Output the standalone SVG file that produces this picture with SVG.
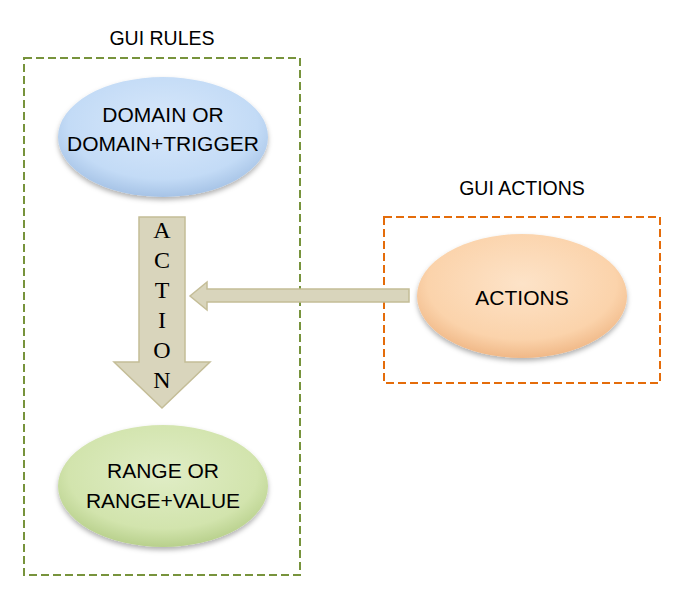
<svg xmlns="http://www.w3.org/2000/svg" width="685" height="601" viewBox="0 0 685 601">
<defs>
<radialGradient id="gBlue" cx="50%" cy="40%" r="60%">
<stop offset="0" stop-color="#d8e8fb"/><stop offset="0.75" stop-color="#c3dbf6"/><stop offset="1" stop-color="#a6c3e6"/>
</radialGradient>
<radialGradient id="gOrange" cx="50%" cy="40%" r="60%">
<stop offset="0" stop-color="#fde3c8"/><stop offset="0.75" stop-color="#fbd3ab"/><stop offset="1" stop-color="#f0b887"/>
</radialGradient>
<radialGradient id="gGreen" cx="50%" cy="40%" r="60%">
<stop offset="0" stop-color="#e0edc6"/><stop offset="0.75" stop-color="#d2e4ad"/><stop offset="1" stop-color="#b8d08c"/>
</radialGradient>
<filter id="sh" x="-20%" y="-20%" width="140%" height="150%">
<feDropShadow dx="0" dy="3" stdDeviation="2.5" flood-color="#000" flood-opacity="0.3"/>
</filter>
</defs>
<style>
.title{font-family:"Liberation Sans",Arial,sans-serif;font-size:19.5px;fill:#000;text-anchor:middle}
.lbl{font-family:"Liberation Sans",Arial,sans-serif;font-size:21px;fill:#000;text-anchor:middle}
.vert{font-family:"Liberation Serif","Times New Roman",serif;font-size:24px;fill:#000;text-anchor:middle}
.arrow{fill:#d9d5bc;stroke:#c4bd97;stroke-width:1.5}
.box{fill:none;stroke-width:2;stroke-dasharray:8 4}
</style>
<g id="gui-rules">
<rect class="box" x="24" y="58" width="276" height="517" stroke="#77933c"/>
<text class="title" x="162" y="45">GUI RULES</text>
</g>
<g id="gui-actions">
<rect class="box" x="384" y="217" width="276" height="166" stroke="#e46c0a"/>
<text class="title" x="522" y="195">GUI ACTIONS</text>
</g>
<g id="connectors">
<path class="arrow" d="M139,217 H185 V362 H210 L162,408 L114,362 H139 Z"/>
<text class="vert" x="162" y="238">A</text>
<text class="vert" x="162" y="268">C</text>
<text class="vert" x="162" y="298">T</text>
<text class="vert" x="162" y="328">I</text>
<text class="vert" x="162" y="358">O</text>
<text class="vert" x="162" y="388">N</text>
<path class="arrow" d="M409,289 V302 H207 V310 L190,296 L207,282 V289 Z"/>
</g>
<g id="domain">
<ellipse cx="163" cy="137" rx="105" ry="60" fill="url(#gBlue)" filter="url(#sh)"/>
<text class="lbl" x="163" y="122">DOMAIN OR</text>
<text class="lbl" x="163" y="151">DOMAIN+TRIGGER</text>
</g>
<g id="actions">
<ellipse cx="522" cy="296" rx="105" ry="62" fill="url(#gOrange)" filter="url(#sh)"/>
<text class="lbl" x="522" y="305">ACTIONS</text>
</g>
<g id="range">
<ellipse cx="163" cy="486" rx="105" ry="61" fill="url(#gGreen)" filter="url(#sh)"/>
<text class="lbl" x="163" y="478">RANGE OR</text>
<text class="lbl" x="163" y="508">RANGE+VALUE</text>
</g>
</svg>
